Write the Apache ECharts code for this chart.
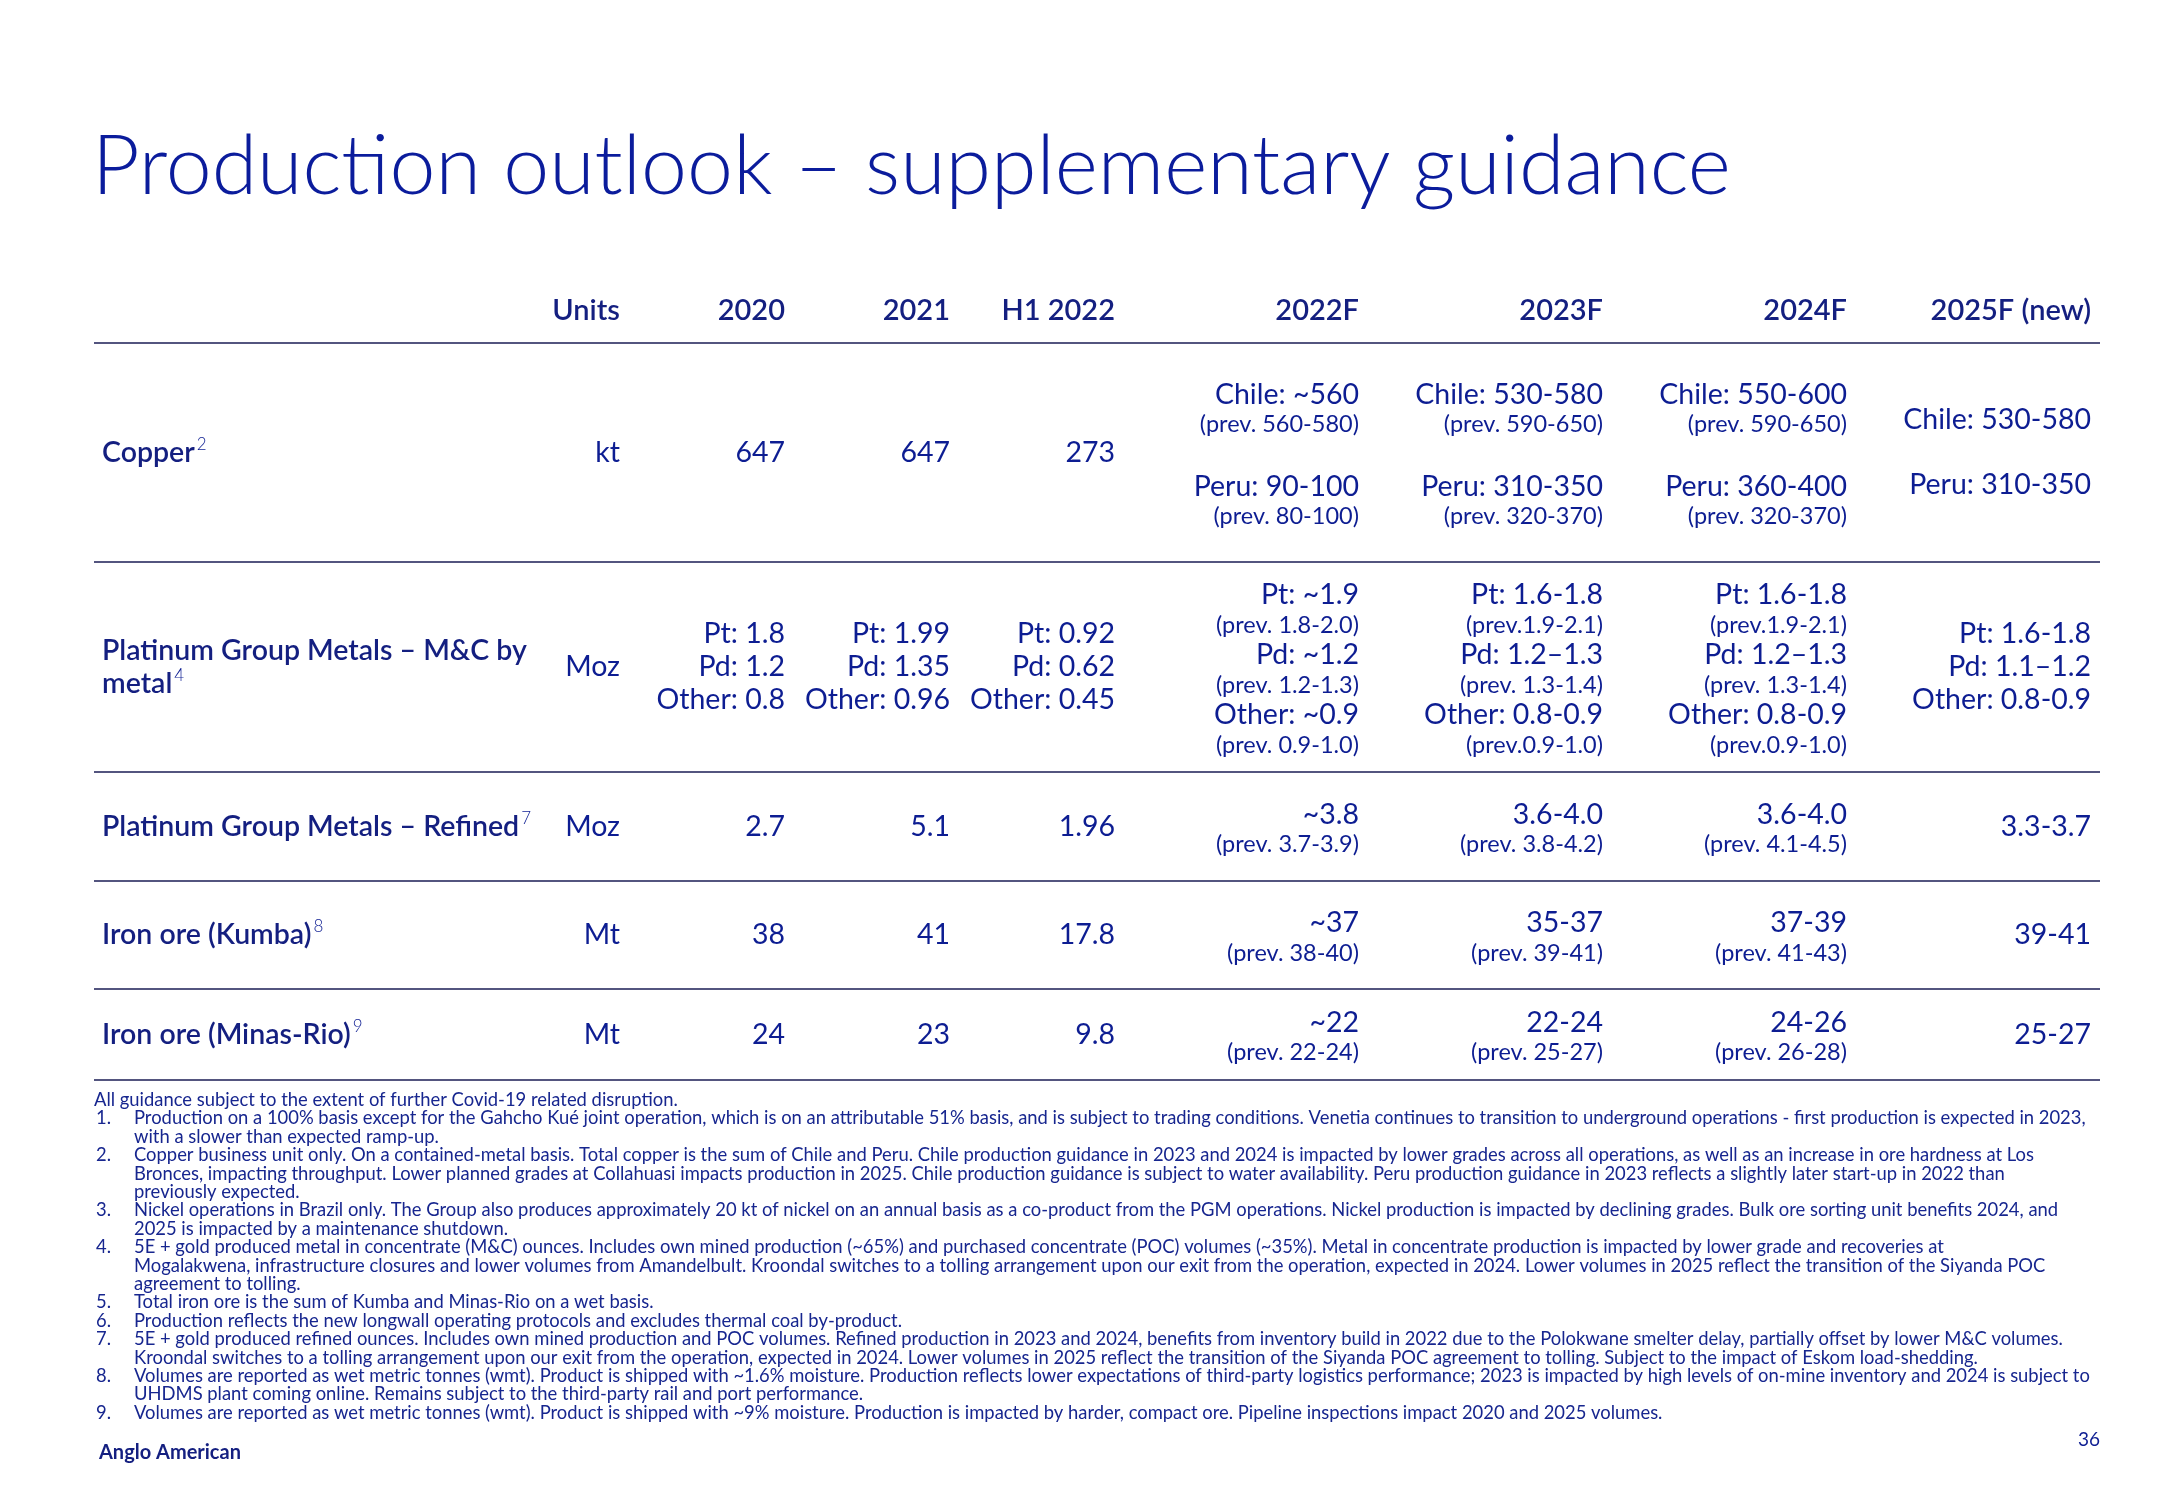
<!DOCTYPE html>
<html><head><meta charset="utf-8">
<script src="https://cdn.jsdelivr.net/npm/echarts@6/dist/echarts.min.js"></script>
<style>html,body{margin:0;padding:0;background:#fff}#c{width:2166px;height:1500px}</style>
</head><body><div id="c"></div>
<script>
// ---------------- DATA ----------------
const TITLE = 'Production outlook – supplementary guidance';
const HIST_COLS = ['Units', '2020', '2021', 'H1 2022'];
const FCST_COLS = ['2022F', '2023F', '2024F', '2025F (new)'];
const ROW_NAMES = ['Copper', 'Platinum Group Metals – M&C by\nmetal', 'Platinum Group Metals – Refined', 'Iron ore (Kumba)', 'Iron ore (Minas-Rio)'];
const ROW_NOTES = ['2', '4', '7', '8', '9'];
const UNITS = ['kt', 'Moz', 'Moz', 'Mt', 'Mt'];
const V2020 = ['647', ['Pt: 1.8', 'Pd: 1.2', 'Other: 0.8'], '2.7', '38', '24'];
const V2021 = ['647', ['Pt: 1.99', 'Pd: 1.35', 'Other: 0.96'], '5.1', '41', '23'];
const VH1_2022 = ['273', ['Pt: 0.92', 'Pd: 0.62', 'Other: 0.45'], '1.96', '17.8', '9.8'];
const F2022 = [
  ['Chile: ~560', '(prev. 560-580)', '', 'Peru: 90-100', '(prev. 80-100)'],
  ['Pt: ~1.9', '(prev. 1.8-2.0)', 'Pd: ~1.2', '(prev. 1.2-1.3)', 'Other: ~0.9', '(prev. 0.9-1.0)'],
  ['~3.8', '(prev. 3.7-3.9)'],
  ['~37', '(prev. 38-40)'],
  ['~22', '(prev. 22-24)']
];
const F2023 = [
  ['Chile: 530-580', '(prev. 590-650)', '', 'Peru: 310-350', '(prev. 320-370)'],
  ['Pt: 1.6-1.8', '(prev.1.9-2.1)', 'Pd: 1.2–1.3', '(prev. 1.3-1.4)', 'Other: 0.8-0.9', '(prev.0.9-1.0)'],
  ['3.6-4.0', '(prev. 3.8-4.2)'],
  ['35-37', '(prev. 39-41)'],
  ['22-24', '(prev. 25-27)']
];
const F2024 = [
  ['Chile: 550-600', '(prev. 590-650)', '', 'Peru: 360-400', '(prev. 320-370)'],
  ['Pt: 1.6-1.8', '(prev.1.9-2.1)', 'Pd: 1.2–1.3', '(prev. 1.3-1.4)', 'Other: 0.8-0.9', '(prev.0.9-1.0)'],
  ['3.6-4.0', '(prev. 4.1-4.5)'],
  ['37-39', '(prev. 41-43)'],
  ['24-26', '(prev. 26-28)']
];
const F2025 = [
  ['Chile: 530-580', '', 'Peru: 310-350'],
  ['Pt: 1.6-1.8', 'Pd: 1.1–1.2', 'Other: 0.8-0.9'],
  ['3.3-3.7'],
  ['39-41'],
  ['25-27']
];
const FOOTNOTES = [
  ['', 'All guidance subject to the extent of further Covid-19 related disruption.'],
  ['1.', 'Production on a 100% basis except for the Gahcho Kué joint operation, which is on an attributable 51% basis, and is subject to trading conditions. Venetia continues to transition to underground operations - first production is expected in 2023,'],
  [' ', 'with a slower than expected ramp-up.'],
  ['2.', 'Copper business unit only. On a contained-metal basis. Total copper is the sum of Chile and Peru. Chile production guidance in 2023 and 2024 is impacted by lower grades across all operations, as well as an increase in ore hardness at Los'],
  [' ', 'Bronces, impacting throughput. Lower planned grades at Collahuasi impacts production in 2025. Chile production guidance is subject to water availability. Peru production guidance in 2023 reflects a slightly later start-up in 2022 than'],
  [' ', 'previously expected.'],
  ['3.', 'Nickel operations in Brazil only. The Group also produces approximately 20 kt of nickel on an annual basis as a co-product from the PGM operations. Nickel production is impacted by declining grades. Bulk ore sorting unit benefits 2024, and'],
  [' ', '2025 is impacted by a maintenance shutdown.'],
  ['4.', '5E + gold produced metal in concentrate (M&C) ounces. Includes own mined production (~65%) and purchased concentrate (POC) volumes (~35%). Metal in concentrate production is impacted by lower grade and recoveries at'],
  [' ', 'Mogalakwena, infrastructure closures and lower volumes from Amandelbult. Kroondal switches to a tolling arrangement upon our exit from the operation, expected in 2024. Lower volumes in 2025 reflect the transition of the Siyanda POC'],
  [' ', 'agreement to tolling.'],
  ['5.', 'Total iron ore is the sum of Kumba and Minas-Rio on a wet basis.'],
  ['6.', 'Production reflects the new longwall operating protocols and excludes thermal coal by-product.'],
  ['7.', '5E + gold produced refined ounces. Includes own mined production and POC volumes. Refined production in 2023 and 2024, benefits from inventory build in 2022 due to the Polokwane smelter delay, partially offset by lower M&C volumes.'],
  [' ', 'Kroondal switches to a tolling arrangement upon our exit from the operation, expected in 2024. Lower volumes in 2025 reflect the transition of the Siyanda POC agreement to tolling. Subject to the impact of Eskom load-shedding.'],
  ['8.', 'Volumes are reported as wet metric tonnes (wmt). Product is shipped with ~1.6% moisture. Production reflects lower expectations of third-party logistics performance; 2023 is impacted by high levels of on-mine inventory and 2024 is subject to'],
  [' ', 'UHDMS plant coming online. Remains subject to the third-party rail and port performance.'],
  ['9.', 'Volumes are reported as wet metric tonnes (wmt). Product is shipped with ~9% moisture. Production is impacted by harder, compact ore. Pipeline inspections impact 2020 and 2025 volumes.']
];
const BRAND = 'Anglo American';
const PAGE_NO = '36';

// ---------------- LAYOUT / STYLE ----------------
const TITLE_BLUE = '#0b1c9c';
const BLUE = '#0d1d92';
const HEAD = '#141f80';
const NOTE_BLUE = '#17268f';
const RULE = '#1a1c55';
const FONT = 'Lato, "Noto Sans", sans-serif';
const ROW_H = [219, 210, 109, 108, 91];
const ROW_Y0 = []; let TABLE_H = 0;
ROW_H.forEach(h => { ROW_Y0.push(TABLE_H); TABLE_H += h; });
const rowCenter = r => r < 0 ? -32 : ROW_Y0[r] + ROW_H[r] / 2;
const GRID_TOP = 343;

function stackLines(lines) {
  const out = []; let y = 0; let prevKind = null; let gap = 0; let hasPrev = false;
  lines.forEach(l => {
    if (l === '') { gap += 32; return; }
    const kind = l.startsWith('(prev') ? 'prev' : 'main';
    if (kind === 'prev') hasPrev = true;
    if (prevKind !== null) { y += (prevKind === 'main' && kind === 'main') ? 33 : 30; y += gap; }
    gap = 0;
    out.push({ text: l, y, kind });
    prevKind = kind;
  });
  const mid = y / 2 - (hasPrev ? 3 : 0);
  out.forEach(o => { o.y -= mid; });
  return out;
}

function cellGroup(api, col, row, cell, isHeader) {
  const yc = rowCenter(row);
  const pt = api.coord([col, yc]);
  const bw = api.size([1, 0])[0];
  const xr = pt[0] + bw / 2;
  if (isHeader) {
    return [{ type: 'text', x: xr, y: pt[1], style: { text: cell, fill: HEAD, fontFamily: FONT, fontSize: 29, fontWeight: 600, align: 'right', verticalAlign: 'middle' } }];
  }
  const lines = stackLines(Array.isArray(cell) ? cell : [cell]);
  return lines.map(o => ({
    type: 'text', x: xr, y: pt[1] + o.y,
    style: { text: o.text, fill: BLUE, fontFamily: FONT, fontSize: o.kind === 'prev' ? 23.5 : 28.5, fontWeight: 400, align: 'right', verticalAlign: 'middle' }
  }));
}

function makeTableSeries(gridIdx, cols, colData) {
  const data = [];
  cols.forEach((c, ci) => {
    data.push([ci, -1]);
    for (let r = 0; r < ROW_NAMES.length; r++) data.push([ci, r]);
  });
  return {
    type: 'custom', xAxisIndex: gridIdx, yAxisIndex: gridIdx, clip: false, silent: true,
    data: data,
    renderItem: (params, api) => {
      const ci = api.value(0), r = api.value(1);
      const cell = r < 0 ? cols[ci] : colData[ci][r];
      return { type: 'group', children: cellGroup(api, ci, r, cell, r < 0) };
    }
  };
}

const chart = echarts.init(document.getElementById('c'), null, { renderer: 'canvas' });

const grids = [
  { left: 94, top: GRID_TOP, width: 361, height: TABLE_H },   // labels
  { left: 455, top: GRID_TOP, width: 660, height: TABLE_H },  // historical
  { left: 1115, top: GRID_TOP, width: 976, height: TABLE_H }, // forecast
  { left: 94, top: GRID_TOP, width: 2006, height: TABLE_H }   // rules
];
const yAxes = grids.map((g, i) => ({ type: 'value', gridIndex: i, min: 0, max: TABLE_H, inverse: true, show: false }));
const xAxes = [
  { type: 'category', gridIndex: 0, data: ['label'], show: false },
  { type: 'category', gridIndex: 1, data: HIST_COLS, show: false },
  { type: 'category', gridIndex: 2, data: FCST_COLS, show: false },
  { type: 'value', gridIndex: 3, min: 0, max: 1, show: false }
];

const labelSeries = {
  type: 'custom', xAxisIndex: 0, yAxisIndex: 0, clip: false, silent: true,
  data: ROW_NAMES.map((n, i) => [0, i]),
  renderItem: (params, api) => {
    const r = api.value(1);
    const pt = api.coord([0, rowCenter(r)]);
    const bw = api.size([1, 0])[0];
    return {
      type: 'text', x: pt[0] - bw / 2 + 8, y: pt[1],
      style: {
        text: ROW_NAMES[r] + '{s|' + ROW_NOTES[r] + '}',
        fill: HEAD, fontFamily: FONT, fontSize: 28.5, fontWeight: 600, lineHeight: 33,
        align: 'left', verticalAlign: 'middle',
        rich: { s: { fontFamily: FONT, fontSize: 17, fontWeight: 300, lineHeight: 20, verticalAlign: 'top', fill: BLUE, padding: [0, 0, 0, 2] } }
      }
    };
  }
};

const ruleSeries = {
  type: 'custom', xAxisIndex: 3, yAxisIndex: 3, clip: false, silent: true,
  data: ROW_Y0.concat([TABLE_H]).map(v => [0, v]),
  renderItem: (params, api) => {
    const a = api.coord([0, api.value(1)]);
    const b = api.coord([1, api.value(1)]);
    return { type: 'line', shape: { x1: a[0], y1: a[1], x2: b[0], y2: b[1] }, style: { stroke: RULE, lineWidth: 1.6 } };
  }
};

const graphics = [
  { type: 'text', left: 92, top: 126, style: { text: TITLE, fill: TITLE_BLUE, fontFamily: FONT, fontSize: 82.5, fontWeight: 300 } },
  { type: 'text', x: 99, y: 1453, style: { text: BRAND, fill: HEAD, fontFamily: FONT, fontSize: 20, fontWeight: 700, verticalAlign: 'middle' } },
  { type: 'text', x: 2100, y: 1440, style: { text: PAGE_NO, fill: BLUE, fontFamily: FONT, fontSize: 19, align: 'right', verticalAlign: 'middle' } }
];
FOOTNOTES.forEach((f, i) => {
  const y = 1100 + i * 18.4;
  const st = { fill: NOTE_BLUE, fontFamily: FONT, fontSize: 18.4, verticalAlign: 'middle' };
  if (f[0] === '') {
    graphics.push({ type: 'text', x: 94, y, style: Object.assign({ text: f[1] }, st) });
  } else {
    if (f[0].trim()) graphics.push({ type: 'text', x: 96, y, style: Object.assign({ text: f[0] }, st) });
    graphics.push({ type: 'text', x: 134, y, style: Object.assign({ text: f[1] }, st) });
  }
});

chart.setOption({
  animation: false,
  backgroundColor: '#ffffff',
  grid: grids,
  xAxis: xAxes,
  yAxis: yAxes,
  series: [labelSeries, makeTableSeries(1, HIST_COLS, [UNITS, V2020, V2021, VH1_2022]), makeTableSeries(2, FCST_COLS, [F2022, F2023, F2024, F2025]), ruleSeries],
  graphic: graphics
});
</script></body></html>
